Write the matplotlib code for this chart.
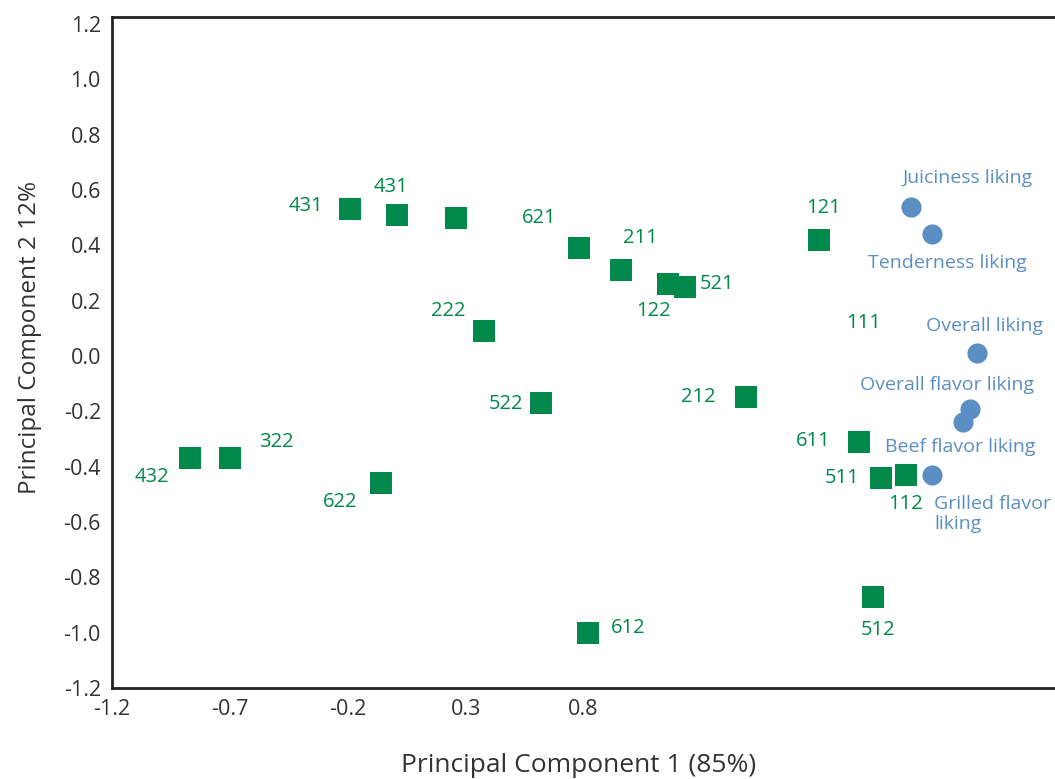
import matplotlib
matplotlib.use("Agg")
import matplotlib.pyplot as plt

plt.rcParams['font.family'] = ['Open Sans', 'DejaVu Sans']

# treatment scores (green squares)
trt_labels = ['431', '431', '', '621', '211', '122', '521', '121', '222', '522',
              '212', '611', '511', '112', '512', '612', '432', '322', '622']
trt_x = [-0.19, 0.01, 0.26, 0.78, 0.96, 1.16, 1.23, 1.80, 0.38, 0.62,
         1.49, 1.97, 2.06, 2.17, 2.03, 0.82, -0.87, -0.70, -0.06]
trt_y = [0.53, 0.51, 0.50, 0.39, 0.31, 0.26, 0.25, 0.42, 0.09, -0.17,
         -0.15, -0.31, -0.44, -0.43, -0.87, -1.00, -0.37, -0.37, -0.46]

# liking attributes (blue circles)
attr_labels = ['Juiciness liking', 'Tenderness liking', 'Overall liking',
               'Overall flavor liking', 'Beef flavor liking', 'Grilled flavor\nliking']
attr_x = [2.19, 2.28, 2.47, 2.44, 2.41, 2.28]
attr_y = [0.54, 0.44, 0.01, -0.19, -0.24, -0.43]

green = '#00894a'
blue = '#5b8ec3'

# label offsets in pixels (dx, dy), measured from the marker centre
trt_off = [(-44, 3), (-6, 28), (0, 0), (-40, 30), (19, 32), (-15, -27), (32, 3),
           (4, 32), (-36, 20), (-35, -1), (-48, 0), (-46, 1), (-38, 0), (-1, -29),
           (5, -33), (40, 5), (-38, -19), (47, 16), (-41, -19)]
attr_off = [(56, 29), (15, -29), (7, 27), (-23, 24), (-3, -25), (2, -39)]
attr_ha = ['center', 'center', 'center', 'center', 'center', 'left']

fig = plt.figure(figsize=(10.55, 7.79), dpi=100)
ax = fig.add_axes([112 / 1055, 1 - 688 / 779, 1 - 112 / 1055, (688 - 17) / 779])

ax.scatter(trt_x, trt_y, marker='s', s=250, color=green, linewidths=0, zorder=3)
ax.scatter(attr_x, attr_y, marker='o', s=210, color=blue, linewidths=0, zorder=3)

for lab, x, y, off in zip(trt_labels, trt_x, trt_y, trt_off):
    if lab:
        ax.annotate(lab, (x, y), xytext=off, textcoords='offset pixels',
                    ha='center', va='center', color=green, fontsize=14.5)
# "111" has no visible marker, only its label
ax.text(1.99, 0.12, '111', ha='center', va='center', color=green, fontsize=14.5)

for lab, x, y, off, ha in zip(attr_labels, attr_x, attr_y, attr_off, attr_ha):
    ax.annotate(lab, (x, y), xytext=off, textcoords='offset pixels',
                ha=ha, va='center', color=blue, fontsize=14, linespacing=1.1)

ax.set_xlim(-1.2, 2.8)
ax.set_ylim(-1.2, 1.225)
ax.set_xticks([-1.2, -0.7, -0.2, 0.3, 0.8])
ax.set_xticklabels(['-1.2', '-0.7', '-0.2', '0.3', '0.8'])
yt = [-1.2, -1.0, -0.8, -0.6, -0.4, -0.2, 0.0, 0.2, 0.4, 0.6, 0.8, 1.0, 1.2]
ax.set_yticks(yt)
ax.set_yticklabels(['%.1f' % v for v in yt])
ax.tick_params(length=0, labelsize=15.5, colors='#333333', pad=8)
for s in ['left', 'top', 'bottom']:
    ax.spines[s].set_linewidth(2)
    ax.spines[s].set_color('#222222')
ax.spines['right'].set_visible(False)

fig.text(579 / 1055, 1 - 765 / 779, 'Principal Component 1 (85%)', fontsize=19,
         color='#333333', ha='center', va='center')
fig.text(30 / 1055, 1 - 337 / 779, 'Principal Component 2 12%', fontsize=17.5,
         color='#333333', ha='center', va='center', rotation=90)

fig.savefig('out.png', dpi=100)
